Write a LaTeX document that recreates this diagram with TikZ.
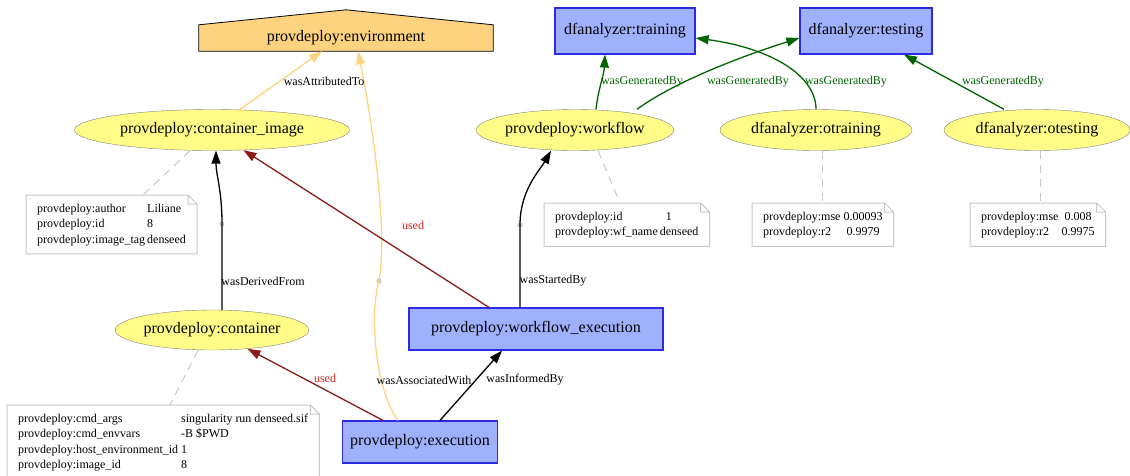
\documentclass[tikz,border=0pt]{standalone}
\usepackage{fontspec}
\setmainfont{Liberation Serif}
\usetikzlibrary{shapes.geometric,arrows.meta,backgrounds}

\definecolor{entfill}{HTML}{FFFC87}
\definecolor{actfill}{HTML}{9FB1FC}
\definecolor{actline}{HTML}{2B2BE6}
\definecolor{agtfill}{HTML}{FED37F}
\definecolor{usedline}{HTML}{8B1A1A}
\definecolor{usedtext}{HTML}{E02020}
\definecolor{genline}{HTML}{006400}
\definecolor{notegray}{HTML}{C8C8C8}

\tikzset{
  entity/.style={ellipse, draw=gray, fill=entfill, inner sep=0pt, font=\fontsize{16}{18}\selectfont},
  activity/.style={rectangle, draw=actline, line width=1.2pt, fill=actfill, inner sep=0pt, font=\fontsize{16}{18}\selectfont},
  note/.style={anchor=north west, inner xsep=11pt, inner ysep=6pt, font=\fontsize{12}{15.5}\selectfont},
  rel/.style={line width=1.3pt, -{Triangle[length=13pt,width=9pt]}},
  lbl/.style={inner sep=1pt, font=\fontsize{12}{13}\selectfont},
  dot/.style={circle, fill=gray!45, inner sep=0pt, minimum size=5pt},
  tie/.style={dashed, dash pattern=on 8pt off 6pt, draw=notegray, line width=1pt}
}

\newcommand\foldnote[1]{%
  \draw[notegray, line width=1pt] (#1.south west) -- (#1.north west) -- ([xshift=-9pt]#1.north east)
    -- ([yshift=-9pt]#1.north east) -- (#1.south east) -- cycle
    ([xshift=-9pt]#1.north east) |- ([yshift=-9pt]#1.north east);}

\begin{document}
\begin{tikzpicture}[x=1pt,y=-1pt]
  \useasboundingbox (0,0) rectangle (1130,475);

  % agent
  \node[inner sep=0pt, minimum width=294pt, minimum height=26pt, font=\fontsize{16}{18}\selectfont]
    (env) at (346,38) {\raisebox{2pt}{provdeploy:environment}};
  \begin{scope}[on background layer]
    \draw[fill=agtfill, line width=0.8pt] (env.south west) -- (env.north west) -- ([yshift=15pt]env.north)
      -- (env.north east) -- (env.south east) -- cycle;
  \end{scope}

  % entities
  \node[entity, minimum width=275pt, minimum height=41pt] (ci) at (212,130) {provdeploy:container\_image};
  \node[entity, minimum width=175pt, minimum height=41pt] (wf) at (575,130) {provdeploy:workflow};
  \node[entity, minimum width=192pt, minimum height=41pt] (otr) at (816,130) {dfanalyzer:otraining};
  \node[entity, minimum width=186pt, minimum height=41pt] (ote) at (1037,130) {dfanalyzer:otesting};
  \node[entity, minimum width=190pt, minimum height=40pt] (c) at (212,330) {provdeploy:container};

  % activities
  \node[activity, minimum width=140pt, minimum height=46pt] (tr) at (625,31) {dfanalyzer:training};
  \node[activity, minimum width=132pt, minimum height=46pt] (te) at (866,31) {dfanalyzer:testing};
  \node[activity, minimum width=254pt, minimum height=42pt] (wfx) at (536,329) {provdeploy:workflow\_execution};
  \node[activity, minimum width=155pt, minimum height=42pt] (ex) at (420,442) {provdeploy:execution};

  % notes
  \draw[tie] ([xshift=-22pt]ci.south) -- (143,195);
  \draw[tie] ([xshift=23pt]wf.south) -- (620,203);
  \draw[tie] ([xshift=6pt]otr.south) -- (822,203);
  \draw[tie] ([xshift=3pt]ote.south) -- (1040,203);
  \draw[tie] ([xshift=-14pt]c.south) -- (170,405);

  \node[note] (cinote) at (26,195) {\begin{tabular}{@{}l@{\hspace{2pt}}l@{}}
    provdeploy:author & Liliane\\ provdeploy:id & 8\\ provdeploy:image\_tag & denseed\end{tabular}};
  \node[note] (wfnote) at (544,203) {\begin{tabular}{@{}l@{\hspace{2pt}}l@{}}
    provdeploy:id & \hspace{6pt}1\\ provdeploy:wf\_name & denseed\end{tabular}};
  \node[note] (otrnote) at (752,203) {\begin{tabular}{@{}l@{\hspace{3pt}}c@{}}
    provdeploy:mse & 0.00093\\ provdeploy:r2 & 0.9979\end{tabular}};
  \node[note] (otenote) at (970,203) {\begin{tabular}{@{}l@{\hspace{3pt}}c@{}}
    provdeploy:mse & 0.008\\ provdeploy:r2 & 0.9975\end{tabular}};
  \node[note] (cnote) at (7,405) {\begin{tabular}{@{}l@{\hspace{3pt}}l@{}}
    provdeploy:cmd\_args & singularity run denseed.sif\\ provdeploy:cmd\_envvars & -B \$PWD\\
    provdeploy:host\_environment\_id & 1\\ provdeploy:image\_id & 8\end{tabular}};
  \foldnote{cinote}
  \foldnote{wfnote}
  \foldnote{otrnote}
  \foldnote{otenote}
  \foldnote{cnote}

  % bends
  \node[dot] (dci) at (222,224) {};
  \node[dot] (dwf) at (520,225) {};
  \node[dot] (denv) at (379,281) {};

  % relations
  \draw[rel, agtfill] ([xshift=28pt]ci.north) -- ([xshift=-24pt]env.south);
  \draw[rel, agtfill] ([xshift=-22pt]ex.north) .. controls (378,395) and (368,320) .. (denv.center)
    .. controls (388,230) and (372,120) .. ([xshift=12pt]env.south);
  \draw[rel] ([xshift=10pt]c.north) -- (dci.center) .. controls (222,190) and (216,175) .. ([xshift=4pt]ci.south);
  \draw[rel, usedline] ([xshift=-47pt]wfx.north) -- (ci);
  \draw[rel, usedline] ([xshift=-37pt]ex.north) -- (c);
  \draw[rel] ([xshift=20pt]ex.north) -- ([xshift=-34pt]wfx.south);
  \draw[rel] ([xshift=-16pt]wfx.north) -- (dwf.center) .. controls (520,190) and (540,170) .. ([xshift=-24pt]wf.south);

  \draw[rel, genline] ([xshift=21pt]wf.north) .. controls (598,90) and (604,75) .. ([xshift=-20pt]tr.south);
  \draw[rel, genline] ([xshift=62pt]wf.north) .. controls (670,85) and (730,60) .. ([yshift=-7pt]te.west);
  \draw[rel, genline] (otr.north) .. controls (816,75) and (770,48) .. ([yshift=-7pt]tr.east);
  \draw[rel, genline] ([xshift=-33pt]ote.north) -- ([xshift=38pt]te.south);

  % labels
  \node[lbl] (lattr) at (324,81) {wasAttributedTo};
  \node[lbl, text=usedtext] (lused1) at (413,225) {used};
  \node[lbl] (lderiv) at (263,281) {wasDerivedFrom};
  \node[lbl] (lstart) at (553,281) {wasStartedBy};
  \node[lbl] (lassoc) at (424,380) {wasAssociatedWith};
  \node[lbl] (linfo) at (525,380) {wasInformedBy};
  \node[lbl, text=usedtext] (lused2) at (325,378) {used};
  \node[lbl, text=genline] (lgen1) at (642,82) {wasGeneratedBy};
  \node[lbl, text=genline] (lgen2) at (748,82) {wasGeneratedBy};
  \node[lbl, text=genline] (lgen3) at (846,82) {wasGeneratedBy};
  \node[lbl, text=genline] (lgen4) at (1003,82) {wasGeneratedBy};
\end{tikzpicture}
\end{document}
